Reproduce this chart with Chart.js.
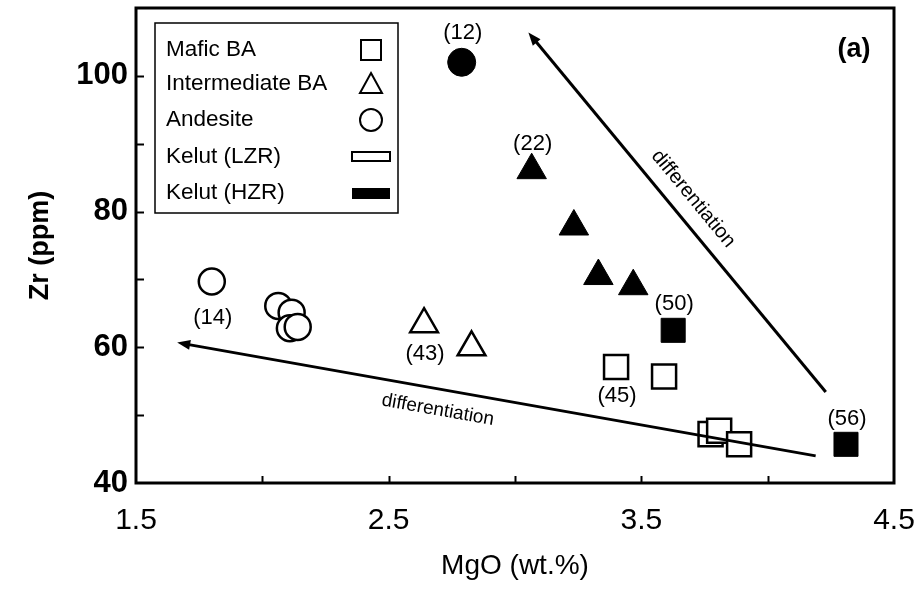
<!DOCTYPE html>
<html><head><meta charset="utf-8">
<script src="https://cdn.jsdelivr.net/npm/chart.js@4.4.1/dist/chart.umd.min.js"></script>
<style>html,body{margin:0;padding:0;background:#fff}#wrap{width:924px;height:595px;position:relative}</style>
</head><body><div id="wrap"><canvas id="c" width="924" height="595"></canvas></div>
<script>
// ---- data (MgO wt.% , Zr ppm) ----
const maficLZR_x = [3.40, 3.59, 3.774, 3.808, 3.887];
const maficLZR_y = [57.1, 55.7, 47.2, 47.7, 45.7];
const maficHZR_x = [3.626, 4.31];
const maficHZR_y = [62.5, 45.7];
const interLZR_x = [2.64, 2.828];
const interLZR_y = [63.4, 60.0];
const interHZR_x = [3.066, 3.233, 3.33, 3.468];
const interHZR_y = [86.1, 77.8, 70.5, 69.0];
const andLZR_x = [1.80, 2.063, 2.116, 2.109, 2.14];
const andLZR_y = [69.7, 66.1, 65.1, 62.8, 63.0];
const andHZR_x = [2.789];
const andHZR_y = [102.0];
const xTickLabels = [1.5, 2.5, 3.5, 4.5];
const yTickLabels = [40, 60, 80, 100];
const sampleLabels = ['(12)', '(14)', '(22)', '(43)', '(45)', '(50)', '(56)'];
const sampleX = [2.789, 1.80, 3.066, 2.64, 3.40, 3.626, 4.31];
const sampleY = [102.0, 69.7, 86.1, 63.4, 57.1, 62.5, 45.7];
const arrowLowTail = [4.19, 44.0];
const arrowLowTip = [1.663, 60.7];
const arrowHighTail = [4.23, 53.4];
const arrowHighTip = [3.053, 106.4];
const legendLabels = ['Mafic BA', 'Intermediate BA', 'Andesite', 'Kelut (LZR)', 'Kelut (HZR)'];

const SANS = "'Liberation Sans', Arial, sans-serif";
const NARROW = "'Liberation Sans Narrow', 'Arial Narrow', 'Liberation Sans', sans-serif";
const pts = (xs, ys) => xs.map((x, i) => ({x: x, y: ys[i]}));

function ds(label, xs, ys, style, r, filled) {
  return {label, data: pts(xs, ys), pointStyle: style, pointRadius: r, pointHoverRadius: r,
    backgroundColor: filled ? '#000' : '#fff', borderColor: '#000', borderWidth: filled ? 1 : 2.5, showLine: false};
}

const labelOffsets = [-29, 36, -26, 30, 29, -26, -25];

const decor = {
  id: 'decor',
  afterDraw(chart) {
    const ctx = chart.ctx, a = chart.chartArea, xs = chart.scales.x, ys = chart.scales.y;
    ctx.save();
    ctx.strokeStyle = '#000'; ctx.lineWidth = 2;
    xs.ticks.forEach(t => {
      if (t.value <= xs.min || t.value >= xs.max) return;
      const p = Math.round(xs.getPixelForValue(t.value)) + 0.5;
      ctx.beginPath(); ctx.moveTo(p, a.bottom); ctx.lineTo(p, a.bottom - 7); ctx.stroke();
    });
    ys.ticks.forEach(t => {
      if (t.value <= ys.min || t.value >= ys.max) return;
      const p = Math.round(ys.getPixelForValue(t.value)) + 0.5;
      ctx.beginPath(); ctx.moveTo(a.left, p); ctx.lineTo(a.left + 8, p); ctx.stroke();
    });
    ctx.lineWidth = 3;
    ctx.strokeRect(a.left, a.top, a.right - a.left, a.bottom - a.top);

    function px(v) { return [xs.getPixelForValue(v[0]), ys.getPixelForValue(v[1])]; }
    function arrow(tail, tip, text, t, perp, size) {
      const p0 = px(tail), p1 = px(tip);
      const ang = Math.atan2(p1[1] - p0[1], p1[0] - p0[0]);
      ctx.strokeStyle = '#000'; ctx.fillStyle = '#000'; ctx.lineWidth = 3;
      const hl = 13, hw = 5;
      const bx = p1[0] - Math.cos(ang) * hl * 0.8, by = p1[1] - Math.sin(ang) * hl * 0.8;
      ctx.beginPath(); ctx.moveTo(p0[0], p0[1]); ctx.lineTo(bx, by); ctx.stroke();
      ctx.beginPath();
      ctx.moveTo(p1[0], p1[1]);
      ctx.lineTo(p1[0] - Math.cos(ang) * hl - Math.sin(ang) * hw, p1[1] - Math.sin(ang) * hl + Math.cos(ang) * hw);
      ctx.lineTo(p1[0] - Math.cos(ang) * hl + Math.sin(ang) * hw, p1[1] - Math.sin(ang) * hl - Math.cos(ang) * hw);
      ctx.closePath(); ctx.fill();
      const ta = Math.atan2(p0[1] - p1[1], p0[0] - p1[0]);
      const cx = p0[0] + (p1[0] - p0[0]) * t, cy = p0[1] + (p1[1] - p0[1]) * t;
      ctx.save();
      ctx.translate(cx, cy); ctx.rotate(ta);
      ctx.font = size + 'px ' + SANS; ctx.textAlign = 'center'; ctx.textBaseline = 'middle';
      ctx.fillText(text, 0, perp);
      ctx.restore();
    }
    arrow(arrowLowTail, arrowLowTip, 'differentiation', 0.586, 21, 19);
    arrow(arrowHighTail, arrowHighTip, 'differentiation', 0.50, -21, 20);

    ctx.fillStyle = '#000'; ctx.font = '22px ' + SANS; ctx.textAlign = 'center'; ctx.textBaseline = 'middle';
    sampleLabels.forEach((s, i) => {
      ctx.fillText(s, xs.getPixelForValue(sampleX[i]) + 1, ys.getPixelForValue(sampleY[i]) + labelOffsets[i]);
    });
    ctx.font = 'bold 27px ' + SANS;
    ctx.fillText('(a)', a.right - 40, a.top + 42);

    const L = a.left + 19, T = a.top + 15, W = 243, H = 190;
    ctx.fillStyle = '#fff'; ctx.fillRect(L, T, W, H);
    ctx.lineWidth = 1.5; ctx.strokeStyle = '#000';
    ctx.strokeRect(L, T, W, H);
    ctx.fillStyle = '#000'; ctx.font = '22.5px ' + SANS; ctx.textAlign = 'left'; ctx.textBaseline = 'middle';
    const rowY = [27, 61, 97, 134, 170];
    legendLabels.forEach((s, i) => ctx.fillText(s, L + 11, T + rowY[i]));
    const sx = L + 216;
    ctx.lineWidth = 2; ctx.fillStyle = '#000';
    ctx.strokeRect(sx - 10, T + rowY[0] - 10, 20, 20);
    ctx.beginPath(); ctx.moveTo(sx, T + rowY[1] - 11); ctx.lineTo(sx + 11, T + rowY[1] + 9); ctx.lineTo(sx - 11, T + rowY[1] + 9); ctx.closePath(); ctx.stroke();
    ctx.beginPath(); ctx.arc(sx, T + rowY[2], 11, 0, Math.PI * 2); ctx.stroke();
    ctx.strokeRect(sx - 19, T + rowY[3] - 5, 38, 9);
    ctx.fillRect(sx - 19, T + rowY[4] - 5, 38, 11);
    ctx.restore();
  }
};

new Chart(document.getElementById('c'), {
  type: 'scatter',
  data: {
    datasets: [
      ds('Mafic BA (LZR)', maficLZR_x, maficLZR_y, 'rect', 17, false),
      ds('Mafic BA (HZR)', maficHZR_x, maficHZR_y, 'rect', 17, true),
      ds('Intermediate BA (LZR)', interLZR_x, interLZR_y, 'triangle', 16, false),
      ds('Intermediate BA (HZR)', interHZR_x, interHZR_y, 'triangle', 17, true),
      ds('Andesite (LZR)', andLZR_x, andLZR_y, 'circle', 13, false),
      ds('Andesite (HZR)', andHZR_x, andHZR_y, 'circle', 14, true)
    ]
  },
  options: {
    responsive: false,
    animation: false,
    devicePixelRatio: 1,
    layout: {autoPadding: false, padding: {top: 8, right: 30, left: 0, bottom: 0}},
    plugins: {legend: {display: false}, tooltip: {enabled: false}},
    scales: {
      x: {
        type: 'linear', min: 1.5, max: 4.5,
        ticks: {stepSize: 0.5, autoSkip: false, maxRotation: 0, padding: 20, color: '#000',
          font: {family: NARROW, size: 30},
          callback: v => xTickLabels.includes(v) ? v.toFixed(1) : ''},
        grid: {display: false, drawTicks: false},
        border: {display: false},
        title: {display: true, text: 'MgO (wt.%)', color: '#000', font: {family: NARROW, size: 28}, padding: {top: 0, bottom: 12}},
        afterFit: s => { s.height = 112; s.paddingLeft = 0; s.paddingRight = 0; }
      },
      y: {
        type: 'linear', min: 40, max: 110,
        ticks: {stepSize: 10, autoSkip: false, padding: 8, color: '#000',
          font: {family: SANS, size: 31, weight: 'bold'},
          callback: v => yTickLabels.includes(v) ? String(v) : ''},
        grid: {display: false, drawTicks: false},
        border: {display: false},
        title: {display: true, text: 'Zr (ppm)', color: '#000', font: {family: SANS, size: 27, weight: 'bold'}, padding: {top: 24, bottom: 0}},
        afterFit: s => { s.width = 136; s.paddingTop = 0; s.paddingBottom = 0; }
      }
    }
  },
  plugins: [decor]
});
</script>
</body></html>
